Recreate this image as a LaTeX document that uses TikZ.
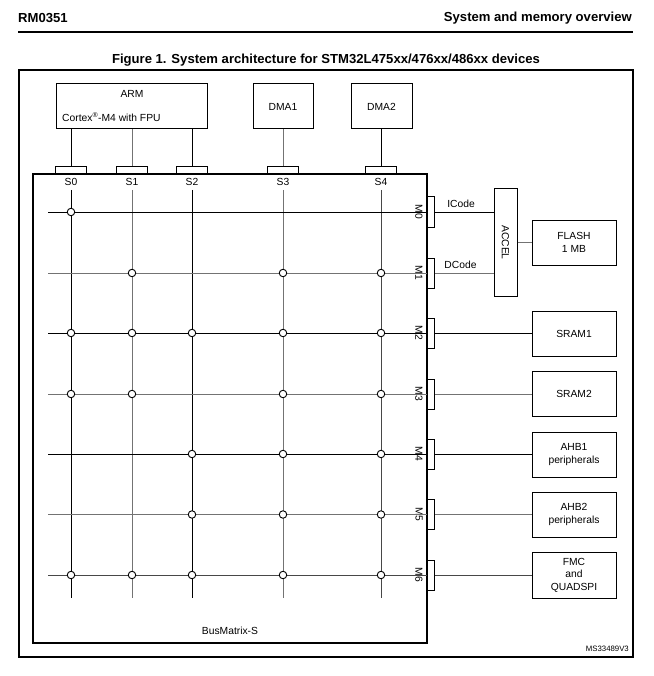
\documentclass[tikz,border=0pt]{standalone}
\usepackage{fontspec}
\setmainfont{Liberation Sans}
\begin{document}
\begin{tikzpicture}[x=1pt,y=-1pt,
  txt/.style={font=\fontsize{10.3}{12.5}\selectfont, inner sep=0pt, align=center},
  hdr/.style={font=\fontsize{13.1}{15}\selectfont\bfseries, inner sep=0pt},
  box/.style={draw, line width=1pt, inner sep=0pt, align=center, font=\fontsize{10.3}{12.5}\selectfont},
  portS/.style={draw, line width=1pt, minimum width=31pt, minimum height=7pt, inner sep=0pt},
  portM/.style={draw, line width=1pt, minimum width=7pt, minimum height=30pt, inner sep=0pt},
  junc/.style={circle, draw, line width=0.9pt, fill=white, minimum size=7.5pt, inner sep=0pt},
  wire/.style={line width=0.9pt, draw=black},
  gwire/.style={line width=0.9pt, draw=black!55},
  dwire/.style={line width=0.9pt, draw=black!72}]
\useasboundingbox (0,0) rectangle (653,676);
% header
\node[hdr, anchor=west] (rm) at (18,18) {RM0351};
\node[hdr, anchor=east] (sec) at (632,18) {System and memory overview};
\draw[line width=1.1pt] (18,32) -- (633,32);
\node[hdr] (title) at (326,60) {Figure 1. System architecture for STM32L475xx/476xx/486xx devices};
% outer frame
\node[draw, line width=1.1pt, minimum width=614pt, minimum height=587pt, inner sep=0pt] (frame) at (326,363.5) {};
% masters
\node[box, minimum width=151pt, minimum height=45pt] (arm) at (131.5,106.5) {};
\node[txt] (armt) at (132,94) {ARM};
\node[txt, anchor=west] (armc) at (62,117) {Cortex\textsuperscript{\fontsize{7}{7}\selectfont ®}-M4 with FPU};
\node[box, minimum width=60pt, minimum height=45pt] (dma1) at (283,106.5) {DMA1};
\node[box, minimum width=61pt, minimum height=45pt] (dma2) at (381.5,106.5) {DMA2};
% bus matrix
\node[draw, line width=1.05pt, minimum width=394pt, minimum height=469pt, inner sep=0pt] (bm) at (230,408.5) {};
\node[txt] (bml) at (230,631) {BusMatrix-S};
% S ports
\foreach \n/\x in {0/71,1/132,2/192,3/283,4/381}{
  \node[portS] (s\n) at (\x,170.5) {};
  \node[txt] (s\n l) at (\x,182) {S\n};
  \coordinate (s\n t) at (\x,190);
  \coordinate (s\n b) at (\x,598);
}
% master to ports
\draw[wire] (arm.south -| s0) -- (s0.north);
\draw[gwire] (arm.south -| s1) -- (s1.north);
\draw[wire] (arm.south -| s2) -- (s2.north);
\draw[gwire] (dma1.south) -- (s3.north);
\draw[wire] (dma2.south -| s4) -- (s4.north);
% M ports
\foreach \n/\y in {0/212,1/273,2/333,3/394,4/454,5/514.5,6/575}{
  \node[portM] (m\n) at (430.5,\y) {};
  \node[txt, rotate=-90] (m\n l) at (419,\y) {M\n};
  \coordinate (h\n) at (48,\y);
}
% vertical lines
\draw[wire] (s0t) -- (s0b);
\draw[gwire] (s1t) -- (s1b);
\draw[wire] (s2t) -- (s2b);
\draw[gwire] (s3t) -- (s3b);
\draw[dwire] (s4t) -- (s4b);
% horizontal lines
\draw[wire] (h0) -- (m0.west);
\draw[gwire] (h1) -- (m1.west);
\draw[wire] (h2) -- (m2.west);
\draw[gwire] (h3) -- (m3.west);
\draw[wire] (h4) -- (m4.west);
\draw[gwire] (h5) -- (m5.west);
\draw[dwire] (h6) -- (m6.west);
% junctions
\foreach \m/\slist in {0/{0},1/{1,3,4},2/{0,1,2,3,4},3/{0,1,3,4},4/{2,3,4},5/{2,3,4},6/{0,1,2,3,4}}{
  \foreach \s in \slist {
    \node[junc] (j\m\s) at (s\s |- m\m) {};
  }
}
% slaves
\node[box, minimum width=23pt, minimum height=107pt] (accel) at (505.5,242.5) {};
\node[txt, rotate=-90] (accelt) at (accel.center) {ACCEL};
\node[box, minimum width=84pt, minimum height=45pt] (flash) at (574,242.5) {FLASH\\1 MB};
\node[box, minimum width=84pt, minimum height=45pt] (sram1) at (574,333.5) {SRAM1};
\node[box, minimum width=84pt, minimum height=45pt] (sram2) at (574,393.5) {SRAM2};
\node[box, minimum width=84pt, minimum height=45pt] (ahb1) at (574,454.5) {AHB1\\peripherals};
\node[box, minimum width=84pt, minimum height=45pt] (ahb2) at (574,514.5) {AHB2\\peripherals};
\node[box, minimum width=84pt, minimum height=46pt] (fmc) at (574,575) {FMC\\and\\QUADSPI};
% right connections
\draw[wire] (m0.east) -- (m0.east -| accel.west);
\draw[gwire] (m1.east) -- (m1.east -| accel.west);
\node[txt] (icode) at (461,204) {ICode};
\node[txt] (dcode) at (460.5,265) {DCode};
\draw[gwire] (accel.east |- flash.west) -- (flash.west);
\draw[wire] (m2.east) -- (m2.east -| sram1.west);
\draw[gwire] (m3.east) -- (m3.east -| sram2.west);
\draw[wire] (m4.east) -- (m4.east -| ahb1.west);
\draw[gwire] (m5.east) -- (m5.east -| ahb2.west);
\draw[dwire] (m6.east) -- (m6.east -| fmc.west);
\node[font=\fontsize{7.8}{9}\selectfont, inner sep=0pt, anchor=east] (ms) at (629,649) {MS33489V3};
\end{tikzpicture}
\end{document}
